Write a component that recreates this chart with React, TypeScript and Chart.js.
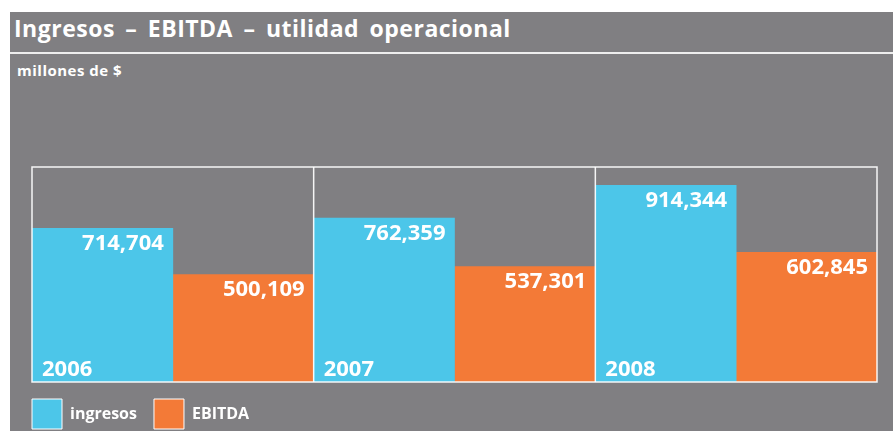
import React, { useEffect, useRef } from "react";
import { Chart, registerables } from "chart.js";

Chart.register(...registerables);

const categories = ["2006", "2007", "2008"];
const ingresos = [714704, 762359, 914344];
const ebitda = [500109, 537301, 602845];
const seriesNames = ["ingresos", "EBITDA"];
const yMax = 1000000;

const GRAY = "#807f82";
const CYAN = "#4cc6e9";
const ORANGE = "#f37a37";
const FONT = "'Open Sans', 'DejaVu Sans', sans-serif";

const fmt = (v: number) => v.toLocaleString("en-US");

const framePlugin = {
  id: "frameAndLabels",
  afterDatasetsDraw(chart: any) {
    const { ctx, chartArea } = chart;
    const x = chart.scales.x;
    ctx.save();
    ctx.fillStyle = "#ffffff";
    ctx.font = `bold 22px ${FONT}`;
    chart.data.datasets.forEach((ds: any, di: number) => {
      const meta = chart.getDatasetMeta(di);
      meta.data.forEach((el: any, i: number) => {
        const props = el.getProps(["x", "y", "width", "base"], true);
        const right = props.x + props.width / 2;
        const left = props.x - props.width / 2;
        ctx.textAlign = "right";
        ctx.textBaseline = "alphabetic";
        ctx.fillText(fmt(ds.data[i]), right - 9, props.y + 22);
        if (di === 0) {
          ctx.textAlign = "left";
          ctx.fillText(chart.data.labels[i], left + 10, props.base - 6);
        }
      });
    });
    ctx.strokeStyle = "rgba(255,255,255,0.92)";
    ctx.lineWidth = 1.5;
    ctx.strokeRect(chartArea.left, chartArea.top, chartArea.right - chartArea.left, chartArea.bottom - chartArea.top);
    const n = chart.data.labels.length;
    const half = (x.getPixelForValue(1) - x.getPixelForValue(0)) / 2;
    for (let i = 0; i < n - 1; i++) {
      const px = x.getPixelForValue(i) + half;
      ctx.beginPath();
      ctx.moveTo(px, chartArea.top);
      ctx.lineTo(px, chartArea.bottom);
      ctx.stroke();
    }
    ctx.restore();
  },
};

export default function App() {
  const ref = useRef<HTMLCanvasElement | null>(null);

  useEffect(() => {
    if (!ref.current) return;
    const chart = new Chart(ref.current, {
      type: "bar",
      data: {
        labels: categories,
        datasets: [
          { label: seriesNames[0], data: ingresos, backgroundColor: CYAN, borderWidth: 0, categoryPercentage: 1, barPercentage: 1 },
          { label: seriesNames[1], data: ebitda, backgroundColor: ORANGE, borderWidth: 0, categoryPercentage: 1, barPercentage: 1 },
        ],
      },
      options: {
        responsive: false,
        maintainAspectRatio: false,
        animation: false,
        devicePixelRatio: 1,
        layout: { padding: { left: 5, right: 16, top: 111, bottom: 0 } },
        scales: {
          x: { display: false },
          y: {
            display: true,
            min: 0,
            max: yMax,
            grid: { display: false },
            border: { display: false },
            ticks: { display: false },
            afterFit: (s: any) => {
              s.width = 17;
            },
          },
        },
        plugins: {
          title: { display: false },
          tooltip: { enabled: false },
          legend: {
            display: true,
            position: "bottom",
            align: "start",
            labels: {
              boxWidth: 30,
              boxHeight: 30,
              padding: 17,
              color: "#ffffff",
              font: { family: FONT, size: 16, weight: "bold" },
              generateLabels: (c: any) =>
                Chart.defaults.plugins.legend.labels.generateLabels(c).map((l: any) => ({
                  ...l,
                  strokeStyle: "#ffffff",
                  lineWidth: 1,
                })),
            },
          },
        },
      },
      plugins: [framePlugin],
    });
    return () => chart.destroy();
  }, []);

  return (
    <div style={{ position: "absolute", left: 0, top: 0, width: 893, height: 431, background: "#ffffff", overflow: "hidden" }}>
      <div style={{ position: "absolute", left: 10, top: 12, width: 883, height: 419, background: GRAY, overflow: "hidden" }}>
        <div
          style={{
            position: "absolute",
            left: 4,
            top: -0.5,
            color: "#ffffff",
            fontFamily: FONT,
            fontWeight: 700,
            fontSize: 23,
            letterSpacing: 0.5,
            wordSpacing: 4,
            whiteSpace: "nowrap",
          }}
        >
          Ingresos – EBITDA – utilidad operacional
        </div>
        <div style={{ position: "absolute", left: 0, top: 40, width: 883, height: 2, background: "#eeeeee" }} />
        <div
          style={{
            position: "absolute",
            left: 7,
            top: 48,
            color: "#ffffff",
            fontFamily: FONT,
            fontWeight: 700,
            fontSize: 15,
            letterSpacing: 0.5,
            whiteSpace: "nowrap",
          }}
        >
          millones de $
        </div>
        <canvas ref={ref} width={883} height={383} style={{ position: "absolute", left: 0, top: 44, width: 883, height: 383 }} />
      </div>
    </div>
  );
}
